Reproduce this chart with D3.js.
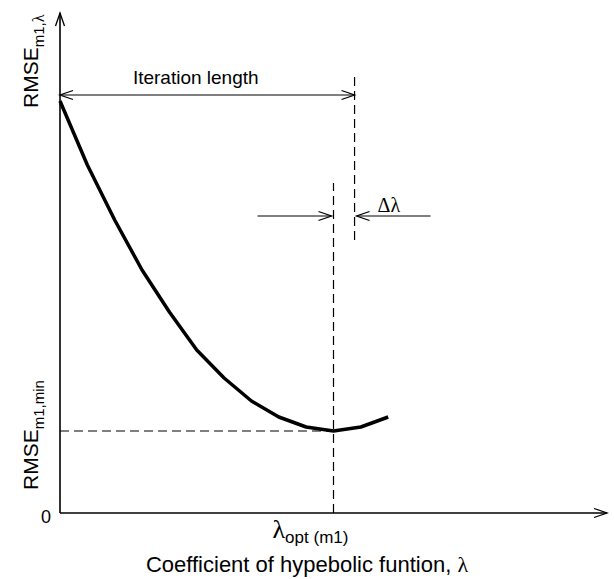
<!DOCTYPE html>
<html>
<head>
<meta charset="utf-8">
<script src="https://cdn.jsdelivr.net/npm/d3@7"></script>
<style>
  body { margin: 0; background: #fff; }
  text { font-family: "Liberation Sans", Arial, sans-serif; fill: #000; }
  .serif { font-family: "Liberation Serif", "Times New Roman", serif; }
</style>
</head>
<body>
<div class="chart"></div>
<script>
// RMSE vs coefficient of hyperbolic function, schematic

var lambdaVals = [0, 1, 2, 3, 4, 5, 6, 7, 8, 9, 10, 11, 12];
var rmseVals   = [412, 348, 293, 243, 201, 163, 135, 112, 96, 86, 82, 86, 96];

var lambdaOpt  = 10;      // optimum
var lambdaIter = 10.77;   // end of iteration length
var rmseMin    = 82;
var iterLevel  = 418;     // height of iteration length arrow
var deltaLevel = 297;     // height of delta lambda arrows

var width = 614, height = 579;

var svg = d3.select(".chart").append("svg")
    .attr("width", width)
    .attr("height", height);

var x = d3.scaleLinear().domain([0, 20]).range([60, 607]);
var y = d3.scaleLinear().domain([0, 500]).range([513, 13]);

// open arrow head drawn as two strokes
function arrowHead(px, py, dir) {
    // dir: "right", "left", "up"
    var L = 13, W = 4.5, d;
    if (dir == "right") d = "M" + (px - L) + "," + (py - W) + "L" + px + "," + py + "L" + (px - L) + "," + (py + W);
    if (dir == "left")  d = "M" + (px + L) + "," + (py - W) + "L" + px + "," + py + "L" + (px + L) + "," + (py + W);
    if (dir == "up")    d = "M" + (px - W) + "," + (py + L) + "L" + px + "," + py + "L" + (px + W) + "," + (py + L);
    svg.append("path")
        .attr("d", d)
        .attr("fill", "none")
        .attr("stroke", "#000")
        .attr("stroke-width", 1.3);
}

function line(x1, y1, x2, y2, dashed, w) {
    return svg.append("line")
        .attr("x1", x1).attr("y1", y1)
        .attr("x2", x2).attr("y2", y2)
        .attr("stroke", "#000")
        .attr("stroke-width", w || 1.4)
        .attr("stroke-dasharray", dashed ? "9,5" : null);
}

// axes
line(x(0), y(0), x(0), y(500), false, 1.6);
arrowHead(x(0), y(500), "up");
line(x(0), y(0), x(20), y(0), false, 1.6);
arrowHead(x(20), y(0), "right");

// dashed guides
line(x(0), y(rmseMin), x(lambdaOpt), y(rmseMin), true, 1.2);
line(x(lambdaOpt), y(0), x(lambdaOpt), y(330), true, 1.2);
line(x(lambdaIter), y(273), x(lambdaIter), y(441), true, 1.2);

// iteration length arrow
line(x(0), y(iterLevel), x(lambdaIter), y(iterLevel), false, 1.2);
arrowHead(x(0), y(iterLevel), "left");
arrowHead(x(lambdaIter), y(iterLevel), "right");

svg.append("text")
    .attr("x", x(5) - 1)
    .attr("y", y(iterLevel) - 11)
    .attr("text-anchor", "middle")
    .attr("font-size", 19)
    .text("Iteration length");

// delta lambda arrows
line(x(lambdaOpt) - 76, y(deltaLevel), x(lambdaOpt) - 2, y(deltaLevel), false, 1.2);
arrowHead(x(lambdaOpt) - 2, y(deltaLevel), "right");
line(x(lambdaIter) + 76, y(deltaLevel), x(lambdaIter) + 2, y(deltaLevel), false, 1.2);
arrowHead(x(lambdaIter) + 2, y(deltaLevel), "left");

svg.append("text")
    .attr("class", "serif")
    .attr("x", x(lambdaIter) + 23)
    .attr("y", y(deltaLevel) - 4)
    .attr("font-size", 20)
    .text("\u0394\u03bb");

// the curve
var curve = d3.line()
    .x(function(d, i) { return x(lambdaVals[i]); })
    .y(function(d) { return y(d); });

svg.append("path")
    .datum(rmseVals)
    .attr("d", curve)
    .attr("fill", "none")
    .attr("stroke", "#000")
    .attr("stroke-width", 3.5)
    .attr("stroke-linejoin", "round");

// y labels
var yl1 = svg.append("text")
    .attr("transform", "translate(38," + 108 + ") rotate(-90)")
    .attr("font-size", 21);
yl1.append("tspan").text("RMSE");
yl1.append("tspan").attr("dy", 6).attr("font-size", 15).text("m1,");
yl1.append("tspan").attr("class", "serif").attr("font-size", 16).text("\u03bb");

var yl2 = svg.append("text")
    .attr("transform", "translate(38," + 490 + ") rotate(-90)")
    .attr("font-size", 21);
yl2.append("tspan").text("RMSE");
yl2.append("tspan").attr("dy", 6).attr("font-size", 15).text("m1,min");

svg.append("text")
    .attr("x", x(0) - 9)
    .attr("y", y(0) + 10)
    .attr("text-anchor", "end")
    .attr("font-size", 18)
    .text("0");

// x labels
var xl1 = svg.append("text")
    .attr("x", x(lambdaOpt) - 61)
    .attr("y", 538)
    .attr("font-size", 26);
xl1.append("tspan").attr("class", "serif").text("\u03bb");
xl1.append("tspan").attr("dy", 5).attr("font-size", 17).text("opt (m1)");

var xl2 = svg.append("text")
    .attr("x", 307)
    .attr("y", 572)
    .attr("text-anchor", "middle")
    .attr("font-size", 22);
xl2.append("tspan").text("Coefficient of hypebolic funtion, ");
xl2.append("tspan").attr("class", "serif").text("\u03bb");
</script>
</body>
</html>
